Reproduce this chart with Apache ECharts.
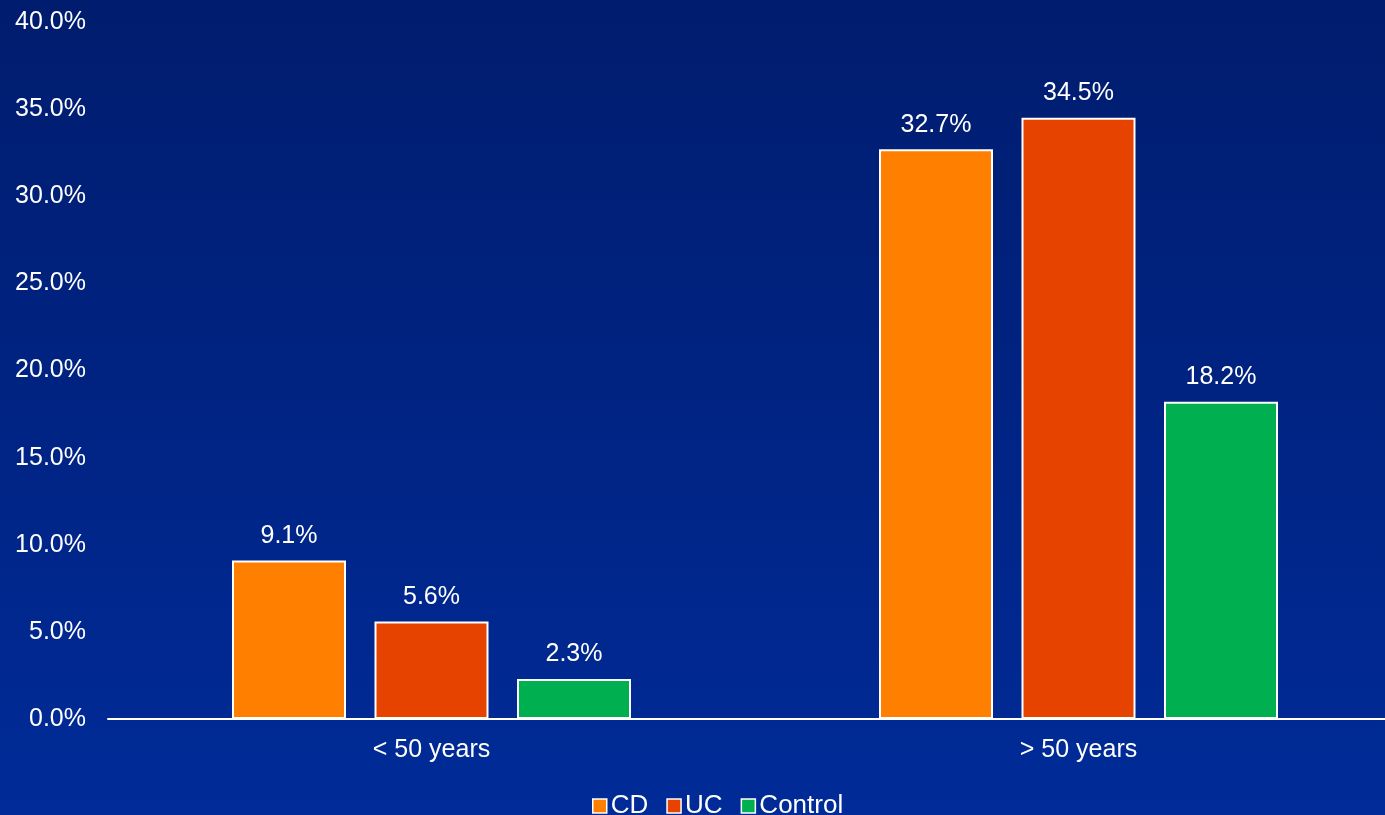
<!DOCTYPE html>
<html>
<head>
<meta charset="utf-8">
<script src="https://cdn.jsdelivr.net/npm/echarts@6/dist/echarts.min.js"></script>
<style>
  html, body { margin: 0; padding: 0; }
  #chart { width: 1385px; height: 815px; }
</style>
</head>
<body>
<div id="chart"></div>
<script>
// Age groups along the x axis
const categories = ['< 50 years', '> 50 years'];
// Percentages for each group
const cdValues = [9.1, 32.7];
const ucValues = [5.6, 34.5];
const controlValues = [2.3, 18.2];
const seriesNames = ['CD', 'UC', 'Control'];

const colors = ['#FF8000', '#E64200', '#00B050'];
const font = 'Liberation Sans, Arial, sans-serif';

const chart = echarts.init(document.getElementById('chart'));

function makeSeries(name, data, color) {
  return {
    name: name,
    type: 'bar',
    data: data,
    barWidth: 114,
    barGap: '25%',
    itemStyle: { color: color, borderColor: '#FFFFFF', borderWidth: 2 },
    label: {
      show: true,
      position: 'top',
      distance: 12,
      color: '#FFFFFF',
      fontFamily: font,
      fontSize: 25,
      formatter: p => p.value.toFixed(1) + '%'
    }
  };
}

chart.setOption({
  backgroundColor: new echarts.graphic.LinearGradient(0, 0, 0, 1, [
    { offset: 0, color: '#001C6E' },
    { offset: 1, color: '#002B98' }
  ]),
  animation: false,
  // the category band runs a little past the right edge of the canvas
  grid: { left: 108, top: 22, width: 1294, bottom: 96, outerBoundsMode: 'none' },
  legend: {
    bottom: -9,
    left: 587,
    itemWidth: 14,
    itemHeight: 14,
    itemGap: 18,
    icon: 'rect',
    itemStyle: { borderColor: '#FFFFFF', borderWidth: 1.5 },
    textStyle: { color: '#FFFFFF', fontFamily: font, fontSize: 26, padding: [0, 0, 0, -1] },
    data: seriesNames
  },
  xAxis: {
    type: 'category',
    data: categories,
    axisLine: { lineStyle: { color: '#FFFFFF', width: 2 } },
    axisTick: { show: false },
    axisLabel: { color: '#FFFFFF', fontFamily: font, fontSize: 25, margin: 19 }
  },
  yAxis: {
    type: 'value',
    min: 0,
    max: 40,
    interval: 5,
    splitLine: { show: false },
    axisLine: { show: false },
    axisTick: { show: false },
    axisLabel: {
      color: '#FFFFFF',
      fontFamily: font,
      fontSize: 25,
      margin: 22,
      formatter: v => v.toFixed(1) + '%'
    }
  },
  series: [
    makeSeries(seriesNames[0], cdValues, colors[0]),
    makeSeries(seriesNames[1], ucValues, colors[1]),
    makeSeries(seriesNames[2], controlValues, colors[2])
  ]
});
</script>
</body>
</html>
